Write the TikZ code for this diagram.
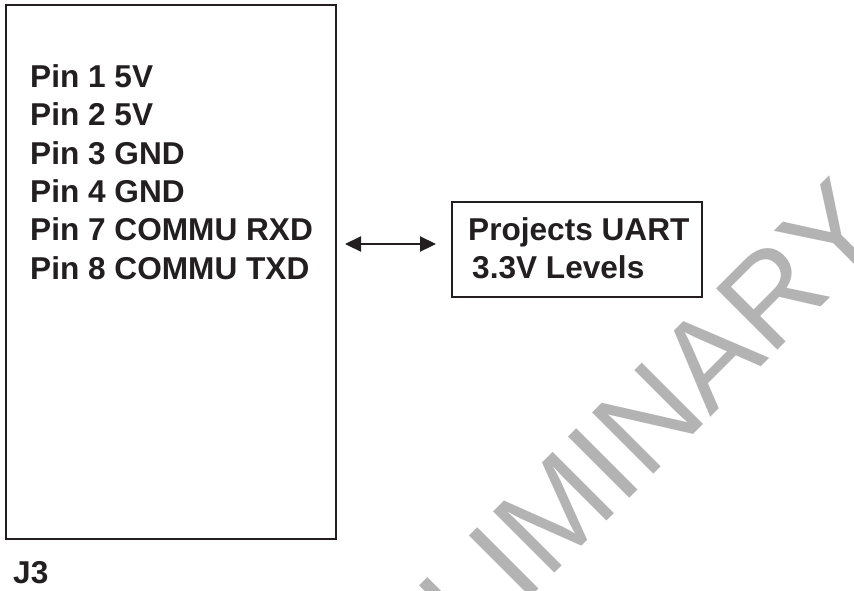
\documentclass[tikz,border=0pt]{standalone}
\usepackage{fontspec}
\setmainfont{Liberation Sans}
\usetikzlibrary{arrows.meta}

\definecolor{ink}{HTML}{231F20}
\definecolor{wmark}{HTML}{B3B3B3}

\tikzset{
  pinlabel/.style={anchor=base west, inner sep=0pt, text=ink,
    font=\fontsize{31.6}{36}\selectfont\bfseries},
  box/.style={draw=ink, line width=2pt, inner sep=0pt},
  link/.style={draw=ink, line width=2.2pt,
    {Triangle[length=16pt,width=15pt]}-{Triangle[length=16pt,width=15pt]}},
}

\begin{document}
\begin{tikzpicture}[x=1pt,y=-1pt]

  \clip (0,0) rectangle (854,590);

  % watermark
  \node[rotate=45, text=wmark, inner sep=0pt, anchor=base west,
    font=\fontsize{126}{126}\selectfont] (wm) at (290,838) {PRELIMINARY};

  % connector J3
  \node[box, minimum width=330pt, minimum height=534pt] (jbox) at (171,272) {};

  \node[pinlabel] (pin1) at (30,87.3) {Pin 1 5V};
  \node[pinlabel] (pin2) at (30,125.5) {Pin 2 5V};
  \node[pinlabel] (pin3) at (30,164) {Pin 3 GND};
  \node[pinlabel] (pin4) at (30,202.5) {Pin 4 GND};
  \node[pinlabel] (pin7) at (30,240.7) {Pin 7 COMMU RXD};
  \node[pinlabel] (pin8) at (30,279) {Pin 8 COMMU TXD};

  \node[pinlabel] (jname) at (13,583) {J3};

  % projects UART
  \node[box, minimum width=250pt, minimum height=95pt] (uart) at (577,249.5) {};

  \node[pinlabel] (uart1) at (468,240) {Projects UART};
  \node[pinlabel] (uart2) at (472,278) {3.3V Levels};

  \coordinate (arrL) at (345,244);
  \coordinate (arrR) at (436,244);
  \draw[link] (arrL) -- (arrR);

\end{tikzpicture}
\end{document}
